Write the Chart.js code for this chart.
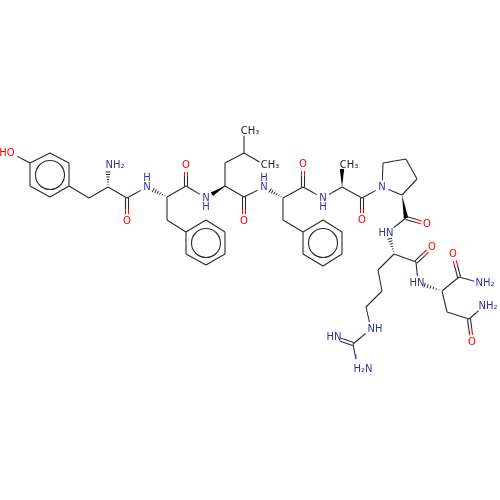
<!DOCTYPE html>
<html><head><meta charset="utf-8">
<style>html,body{margin:0;padding:0;background:#fff}#w{width:500px;height:500px;position:relative}</style>
<script src="https://cdn.jsdelivr.net/npm/chart.js@4"></script></head>
<body><div id="w"><canvas id="c" width="500" height="500"></canvas></div>
<script>
const atomX=[11,30,50,69,69,50,30,89,108,108,127,127,147,167,167,186,206,225,225,206,186,186,186,206,225,225,244,244,263,244,244,264,283,283,303,323,342,342,323,303,303,303,323,342,342,362,362,382,383,406,417,402,406,427,388,394,416,432,418,378,382,366,371,353,333,357,442,459,453,481,447,469,472,484];
const atomY=[153,163,153,163,186,197,186,198,187,165,198,221,187,197,220,232,220,232,254,265,254,186,165,198,186,163,153,131,164,197,221,187,198,220,232,220,232,254,266,254,187,164,198,187,165,198,220,187,163,159,179,195,218,224,232,254,262,247,283,270,291,307,329,344,337,365,291,277,254,283,312,319,342,306];
const atomElement=("OCCCCCCCC"+"N"+"C"+"O"+"N"+"CCCCCCCCC"+"O"+"N"+"CCCCCC"+"O"+"N"+"CCCCCCCCC"+"O"+"N"+"CCC"+"O"+"N"+"CCCCC"+"O"+"N"+"CC"+"O"+"N"+"CCC"+"N"+"C"+"N"+"N"+"CC"+"O"+"N"+"CC"+"O"+"N").split("");
const atomGap=[7,0,0,0,0,0,0,0,0,7,0,7,7,0,0,0,0,0,0,0,0,0,7,7,0,0,0,5,4,0,7,7,0,0,0,0,0,0,0,0,0,7,7,0,4,0,7,7,0,0,0,0,0,6,7,0,0,6,7,0,0,0,7,0,7,6,0,0,7,7,0,0,7,7];
const singleFrom=[0,1,2,3,4,5,6,4,7,8,10,13,14,15,16,17,18,19,20,13,21,23,24,25,26,26,24,29,32,33,34,35,36,37,38,39,32,40,42,43,45,47,48,49,50,51,52,55,56,55,59,60,61,62,63,66,67,66,70,71];
const singleTo=[1,2,3,4,5,6,1,7,8,10,12,14,15,16,17,18,19,20,15,21,23,24,25,26,27,28,29,31,33,34,35,36,37,38,39,34,40,42,43,45,47,48,49,50,51,47,54,56,58,59,60,61,62,63,65,67,69,70,71,73];
const doubleFrom=[10,21,29,40,45,52,56,63,67,71];
const doubleTo=[11,22,30,41,46,53,57,64,68,72];
const wedgeFrom=[24,43,51];
const wedgeTo=[23,44,52];
const hashFrom=[8,13,32,55,66];
const hashTo=[9,12,31,54,58];
const ringX=[50,206,323];
const ringY=[175,243,243];
const labelText=["HO","NH₂","O","N","H","O","N","H","CH₃","CH₃","O","N","H","O","N","H","CH₃","O","N","O","HN","O","HN","NH","HN","H₂N","O","NH₂","NH₂","O"];
const labelX=[7,115,127,147,147,186,206,206,250,270,244,264,264,303,323,323,349,362,382,427,386,432,417,375,334,363,453,485,488,472];
const labelY=[153,165,221,187,178,165,198,207,131,165,221,187,178,164,198,207,165,220,187,224,233,247,283,329,337,369,254,283,306,342];
const labelElement=["O","N","O","N","N","O","N","N","C","C","O","N","N","O","N","N","C","O","N","O","N","O","N","N","N","N","O","N","N","O"];

const COL={C:"#2b2b2b",N:"#3232a0",O:"#ff0000"};
function trim(a,b){
  const dx=atomX[b]-atomX[a],dy=atomY[b]-atomY[a],L=Math.hypot(dx,dy),ux=dx/L,uy=dy/L;
  return [atomX[a]+ux*atomGap[a],atomY[a]+uy*atomGap[a],atomX[b]-ux*atomGap[b],atomY[b]-uy*atomGap[b],ux,uy];
}
const paths={C:[],N:[],O:[]};
function half(a,b,off){
  const [x1,y1,x2,y2,ux,uy]=trim(a,b);
  const ox=-uy*off,oy=ux*off,mx=(atomX[a]+atomX[b])/2+ox,my=(atomY[a]+atomY[b])/2+oy;
  const ea=atomElement[a],eb=atomElement[b];
  paths[ea].push({x:x1+ox,y:y1+oy},{x:mx,y:my},{x:NaN,y:NaN});
  paths[eb].push({x:mx,y:my},{x:x2+ox,y:y2+oy},{x:NaN,y:NaN});
}
singleFrom.forEach((a,i)=>half(a,singleTo[i],0));
doubleFrom.forEach((a,i)=>{half(a,doubleTo[i],1.5);half(a,doubleTo[i],-1.5);});
const bondSet=e=>({type:"scatter",data:paths[e],showLine:true,spanGaps:false,borderColor:COL[e],borderWidth:1.1,pointRadius:0,tension:0,fill:false});

const stereo={id:"stereo",afterDatasetsDraw(ch){
  const g=ch.ctx,X=ch.scales.x,Y=ch.scales.y;
  wedgeFrom.forEach((a,i)=>{
    const [x1,y1,x2,y2,ux,uy]=trim(a,wedgeTo[i]);
    const ax=X.getPixelForValue(x1),ay=Y.getPixelForValue(y1),bx=X.getPixelForValue(x2),by=Y.getPixelForValue(y2);
    g.fillStyle="#000";g.beginPath();g.moveTo(ax,ay);g.lineTo(bx-uy*2.2,by+ux*2.2);g.lineTo(bx+uy*2.2,by-ux*2.2);g.closePath();g.fill();
  });
  hashFrom.forEach((a,i)=>{
    const [x1,y1,x2,y2,ux,uy]=trim(a,hashTo[i]);
    const n=6;g.strokeStyle="#222";g.lineWidth=1;
    for(let k=1;k<=n;k++){
      const t=k/n,w=2.4*t,cx=X.getPixelForValue(x1+(x2-x1)*t),cy=Y.getPixelForValue(y1+(y2-y1)*t);
      g.beginPath();g.moveTo(cx-uy*w,cy+ux*w);g.lineTo(cx+uy*w,cy-ux*w);g.stroke();
    }
  });
  g.font='10px "DejaVu Sans"';g.textAlign="center";g.textBaseline="middle";
  labelText.forEach((t,i)=>{g.fillStyle=labelElement[i]=="C"?"#222":COL[labelElement[i]];
    g.fillText(t,X.getPixelForValue(labelX[i]),Y.getPixelForValue(labelY[i]));});
}};
new Chart(document.getElementById("c"),{
  type:"scatter",
  data:{datasets:[bondSet("C"),bondSet("N"),bondSet("O"),
    {data:ringX.map((x,i)=>({x,y:ringY[i]})),showLine:false,pointStyle:"circle",pointRadius:14.5,pointBorderWidth:1.1,pointBorderColor:COL.C,pointBackgroundColor:"rgba(0,0,0,0)"}]},
  options:{responsive:false,devicePixelRatio:1,animation:false,layout:{padding:0,autoPadding:false},
    plugins:{legend:{display:false},tooltip:{enabled:false}},
    scales:{x:{type:"linear",min:0,max:500,display:false},y:{type:"linear",min:0,max:500,reverse:true,display:false}}},
  plugins:[stereo]
});
</script></body></html>
